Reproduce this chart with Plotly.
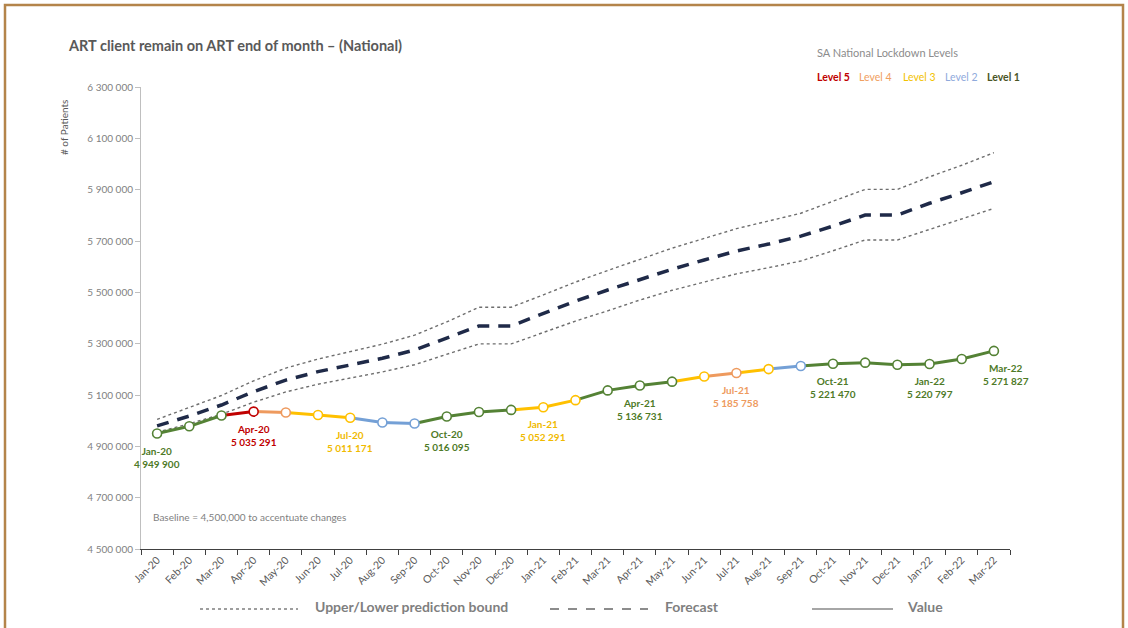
import plotly.graph_objects as go

# ---- data -----------------------------------------------------------------
months = ["Jan-20", "Feb-20", "Mar-20", "Apr-20", "May-20", "Jun-20", "Jul-20",
          "Aug-20", "Sep-20", "Oct-20", "Nov-20", "Dec-20", "Jan-21", "Feb-21",
          "Mar-21", "Apr-21", "May-21", "Jun-21", "Jul-21", "Aug-21", "Sep-21",
          "Oct-21", "Nov-21", "Dec-21", "Jan-22", "Feb-22", "Mar-22"]

# clients remaining on ART at month end
value = [4949900, 4978000, 5020000, 5035291, 5032000, 5022000, 5011171,
         4993000, 4989000, 5016095, 5034000, 5042000, 5052291, 5080000,
         5118000, 5136731, 5152000, 5172000, 5185758, 5201000, 5213000,
         5221470, 5226000, 5218000, 5220797, 5240000, 5271827]

forecast = [4980000, 5018000, 5061000, 5113000, 5158000, 5191000, 5217000,
            5243000, 5275000, 5321000, 5369000, 5369000, 5418000, 5466000,
            5509000, 5551000, 5590000, 5626000, 5661000, 5688000, 5719000,
            5758000, 5801000, 5801000, 5847000, 5888000, 5931000]

upper = [5005000, 5050000, 5098000, 5155000, 5205000, 5240000, 5270000,
         5298000, 5333000, 5385000, 5442000, 5442000, 5490000, 5540000,
         5585000, 5630000, 5672000, 5710000, 5748000, 5778000, 5808000,
         5855000, 5901000, 5901000, 5950000, 5995000, 6044000]

lower = [4955000, 4988000, 5025000, 5072000, 5112000, 5142000, 5166000,
         5190000, 5218000, 5260000, 5299000, 5299000, 5345000, 5388000,
         5428000, 5470000, 5508000, 5540000, 5572000, 5596000, 5622000,
         5662000, 5704000, 5704000, 5745000, 5785000, 5827000]

# national lockdown level in force for each month
level = [1, 1, 1, 5, 4, 3, 3, 2, 2, 1, 1, 1, 3, 3, 1, 1, 1, 3, 4, 3, 2,
         1, 1, 1, 1, 1, 1]

labelled_months = ["Jan-20", "Apr-20", "Jul-20", "Oct-20", "Jan-21", "Apr-21",
                   "Jul-21", "Oct-21", "Jan-22", "Mar-22"]

y_ticks = [4500000, 4700000, 4900000, 5100000, 5300000, 5500000, 5700000,
           5900000, 6100000, 6300000]

# ---- styling --------------------------------------------------------------
LINE_COL = {5: "#C00000", 4: "#EE9A5E", 3: "#FFC000", 2: "#74A0D6", 1: "#548235"}
TEXT_COL = {5: "#C00000", 4: "#EE9A5E", 3: "#F0BA00", 2: "#8FAADC", 1: "#4E7A27"}
GREY = "#7F7F7F"
FONT = "Lato"

W, H = 1128, 628
L, R, T, B = 141, 118, 87, 79
PW, PH = W - L - R, H - T - B


def px_x(px):
    return (px - L) / PW


def px_y(py):
    return (H - B - py) / PH


def spaced(n):
    return f"{n:,}".replace(",", " ")


fig = go.Figure()

# prediction bounds
for series in (upper, lower):
    fig.add_trace(go.Scatter(
        x=months, y=series, mode="lines",
        line=dict(color="#6E6E6E", width=1.4, dash="dot"),
        hoverinfo="skip", showlegend=False))

# forecast
fig.add_trace(go.Scatter(
    x=months, y=forecast, mode="lines",
    line=dict(color="#1F2A48", width=3.5, dash="12px,9px"),
    showlegend=False))

# actual values, each segment coloured by lockdown level
for i in range(1, len(months)):
    fig.add_trace(go.Scatter(
        x=[months[i - 1], months[i]], y=[value[i - 1], value[i]],
        mode="lines", line=dict(color=LINE_COL[level[i]], width=3),
        hoverinfo="skip", showlegend=False))

fig.add_trace(go.Scatter(
    x=months, y=value, mode="markers",
    marker=dict(size=9, color="white",
                line=dict(width=1.6, color=[LINE_COL[l] for l in level])),
    showlegend=False))

annotations = []

# point labels
for m in labelled_months:
    i = months.index(m)
    last = i == len(months) - 1
    annotations.append(dict(
        x=m, y=value[i], xref="x", yref="y",
        text=f"<b>{m}<br>{spaced(value[i])}</b>",
        showarrow=False, xanchor="center", yanchor="top",
        xshift=12 if last else 0, yshift=-9,
        font=dict(family=FONT, size=10, color=TEXT_COL[level[i]])))

# title
annotations.append(dict(
    x=px_x(66), y=px_y(46), xref="paper", yref="paper",
    text="<b>ART client remain on ART end of month – (National)</b>",
    showarrow=False, xanchor="left", yanchor="middle",
    font=dict(family=FONT, size=14.5, color="#595959")))

# y-axis title
annotations.append(dict(
    x=px_x(64), y=px_y(128), xref="paper", yref="paper",
    text="# of Patients", textangle=-90, showarrow=False,
    xanchor="center", yanchor="middle",
    font=dict(family=FONT, size=10, color="#595959")))

# lockdown level key
annotations.append(dict(
    x=px_x(815), y=px_y(52), xref="paper", yref="paper",
    text="SA National Lockdown Levels", showarrow=False,
    xanchor="left", yanchor="middle",
    font=dict(family=FONT, size=11, color="#8C8C8C")))
for lv, left in zip([5, 4, 3, 2, 1], [815, 857, 901, 943, 985]):
    col = {5: "#C00000", 4: "#F0A060", 3: "#F2C200", 2: "#8FAADC", 1: "#4A5526"}[lv]
    annotations.append(dict(
        x=px_x(left), y=px_y(77), xref="paper", yref="paper",
        text=f"<b>Level {lv}</b>" if lv in (5, 1) else f"Level {lv}",
        showarrow=False, xanchor="left", yanchor="middle",
        font=dict(family=FONT, size=10.5, color=col)))

# baseline note
annotations.append(dict(
    x=px_x(151), y=px_y(517), xref="paper", yref="paper",
    text="Baseline = 4,500,000 to accentuate changes", showarrow=False,
    xanchor="left", yanchor="middle",
    font=dict(family=FONT, size=10, color=GREY)))

# bottom key
shapes = []
key = [("Upper/Lower prediction bound", 200, 298, 313, "dot", "#7F7F7F", 1.5),
       ("Forecast", 550, 648, 663, "dash", "#8C8C8C", 1.8),
       ("Value", 812, 893, 905, "solid", "#A6A6A6", 2)]
for text, x0, x1, tx, dash, col, w in key:
    shapes.append(dict(type="line", xref="paper", yref="paper",
                       x0=px_x(x0), x1=px_x(x1), y0=px_y(609), y1=px_y(609),
                       line=dict(color=col, width=w, dash=dash)))
    annotations.append(dict(
        x=px_x(tx), y=px_y(606), xref="paper", yref="paper",
        text=f"<b>{text}</b>", showarrow=False, xanchor="left", yanchor="middle",
        font=dict(family=FONT, size=14, color="#7F7F7F")))

# frame around the whole chart
shapes.append(dict(type="rect", xref="paper", yref="paper",
                   x0=px_x(5), x1=px_x(1123), y0=px_y(640), y1=px_y(5),
                   line=dict(color="#B4844A", width=2.5), layer="below"))

fig.update_layout(
    width=W, height=H, autosize=False,
    margin=dict(l=L, r=R, t=T, b=B),
    paper_bgcolor="white", plot_bgcolor="white",
    separators=". ",
    font=dict(family=FONT, color="#595959"),
    xaxis=dict(
        type="category", range=[-0.5, len(months) - 0.5],
        showgrid=False, zeroline=False, showline=True,
        linecolor="#404040", linewidth=1,
        ticks="outside", tickson="boundaries", ticklen=5, tickcolor="#404040",
        tickangle=-45, tickfont=dict(family=FONT, size=10.5, color="#595959")),
    yaxis=dict(
        range=[y_ticks[0], y_ticks[-1]], tickvals=y_ticks, tickformat=",d",
        showgrid=False, zeroline=False, showline=True,
        linecolor="#BFBFBF", linewidth=1,
        ticks="outside", ticklen=5, tickcolor="#BFBFBF",
        tickfont=dict(family=FONT, size=10, color="#7F7F7F")),
    annotations=annotations, shapes=shapes,
    showlegend=False,
)

fig.write_html("out.html")
